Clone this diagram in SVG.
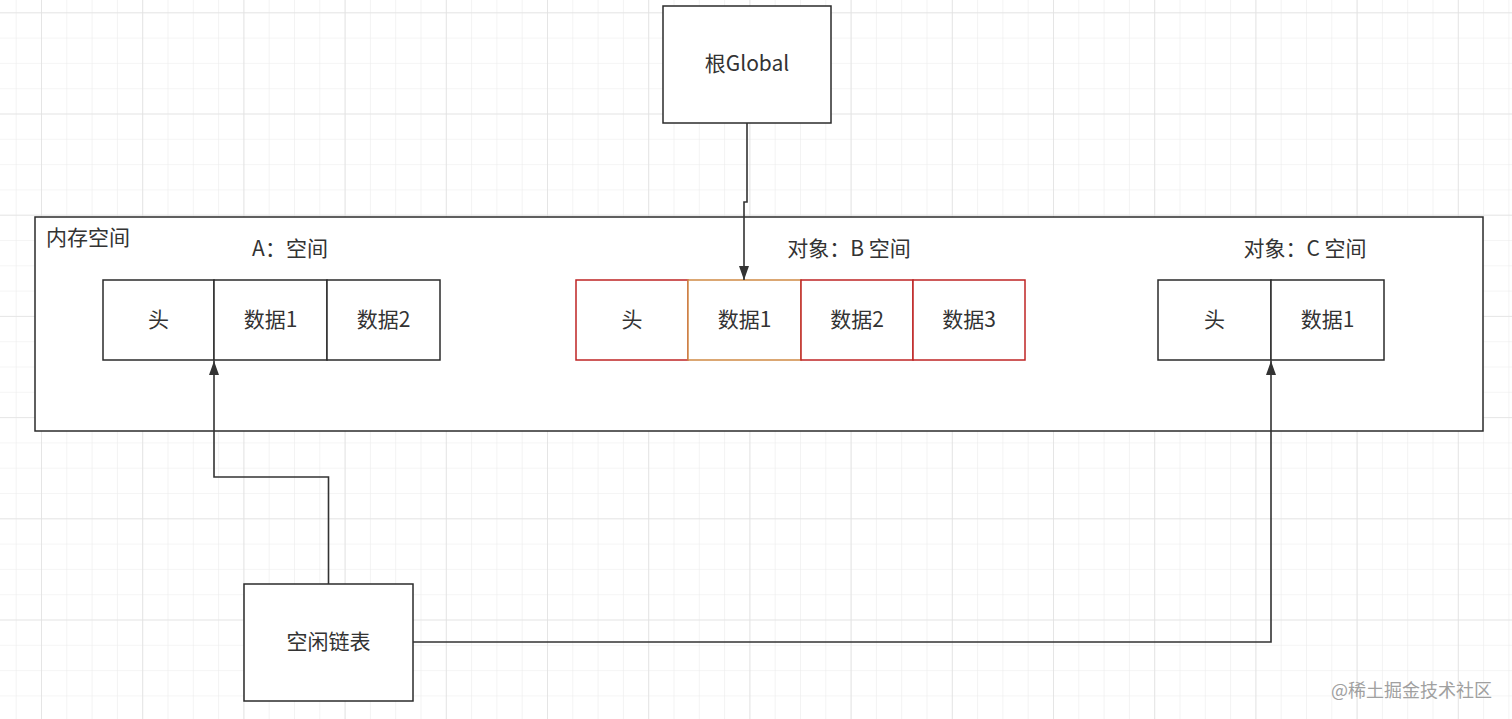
<svg xmlns="http://www.w3.org/2000/svg" width="1512" height="719" viewBox="0 0 1512 719">
<defs>
<pattern id="minor" x="15.7" y="12.3" width="25.3" height="25.3" patternUnits="userSpaceOnUse">
<path d="M0 0H25.3M0 0V25.3" fill="none" stroke="#ececec" stroke-width="1.2"/>
</pattern>
<pattern id="major" x="41" y="12.3" width="101.2" height="101.2" patternUnits="userSpaceOnUse">
<path d="M0 0H101.2M0 0V101.2" fill="none" stroke="#e2e2e2" stroke-width="1.6"/>
</pattern>
<marker id="arr" viewBox="0 0 14 10" refX="14" refY="5" markerWidth="14" markerHeight="10" markerUnits="userSpaceOnUse" orient="auto">
<path d="M0 0L14 5L0 10Z" fill="#333"/>
</marker>
<style>
.box{fill:#fff;stroke:#2b2b2b;stroke-width:1.5}
.red{fill:#fff;stroke:#bf2424;stroke-width:1.5}
.org{fill:#fff;stroke:#cf8a45;stroke-width:1.5}
.t{font-family:"Noto Sans CJK SC","Noto Sans",sans-serif;font-size:21px;fill:#333;text-anchor:middle}
.l{font-family:"Noto Sans CJK SC","Noto Sans",sans-serif;font-size:21px;fill:#333}
.c{fill:none;stroke:#333;stroke-width:1.6}
</style>
</defs>
<rect width="1512" height="719" fill="#fff"/>
<rect width="1512" height="719" fill="url(#minor)"/>
<rect width="1512" height="719" fill="url(#major)"/>

<g id="memory">
<rect class="box" x="35" y="217" width="1448" height="214"/>
<text class="l" x="46" y="245">内存空间</text>
</g>

<g id="global">
<rect class="box" x="663" y="6" width="168" height="117"/>
<text class="t" x="747" y="71">根Global</text>
</g>

<g id="freelist">
<rect class="box" x="244" y="584" width="169" height="117"/>
<text class="t" x="328.5" y="649">空闲链表</text>
</g>

<g id="objA">
<text class="t" x="290" y="256">A：空间</text>
<rect class="box" x="103" y="280" width="111" height="80"/>
<text class="t" x="158.5" y="327">头</text>
<rect class="box" x="214" y="280" width="113" height="80"/>
<text class="t" x="270.5" y="327">数据1</text>
<rect class="box" x="327" y="280" width="113" height="80"/>
<text class="t" x="383.5" y="327">数据2</text>
</g>

<g id="objB">
<text class="t" x="849" y="256">对象：B 空间</text>
<rect class="red" x="576" y="280" width="112" height="80"/>
<text class="t" x="632" y="327">头</text>
<rect class="org" x="688" y="280" width="113" height="80"/>
<text class="t" x="744.5" y="327">数据1</text>
<rect class="red" x="801" y="280" width="112" height="80"/>
<text class="t" x="857" y="327">数据2</text>
<rect class="red" x="913" y="280" width="112" height="80"/>
<text class="t" x="969" y="327">数据3</text>
</g>

<g id="objC">
<text class="t" x="1305" y="256">对象：C 空间</text>
<rect class="box" x="1158" y="280" width="113" height="80"/>
<text class="t" x="1214.5" y="327">头</text>
<rect class="box" x="1271" y="280" width="113" height="80"/>
<text class="t" x="1327.5" y="327">数据1</text>
</g>

<g id="connectors">
<path class="c" d="M747 123V202H744V280" marker-end="url(#arr)"/>
<path class="c" d="M328.5 584V477H214V361" marker-end="url(#arr)"/>
<path class="c" d="M413 642H1271V361" marker-end="url(#arr)"/>
</g>

<text x="1492" y="697" text-anchor="end" font-family="Noto Sans CJK SC,sans-serif" font-size="18" fill="#a0a0a0">@稀土掘金技术社区</text>
</svg>
